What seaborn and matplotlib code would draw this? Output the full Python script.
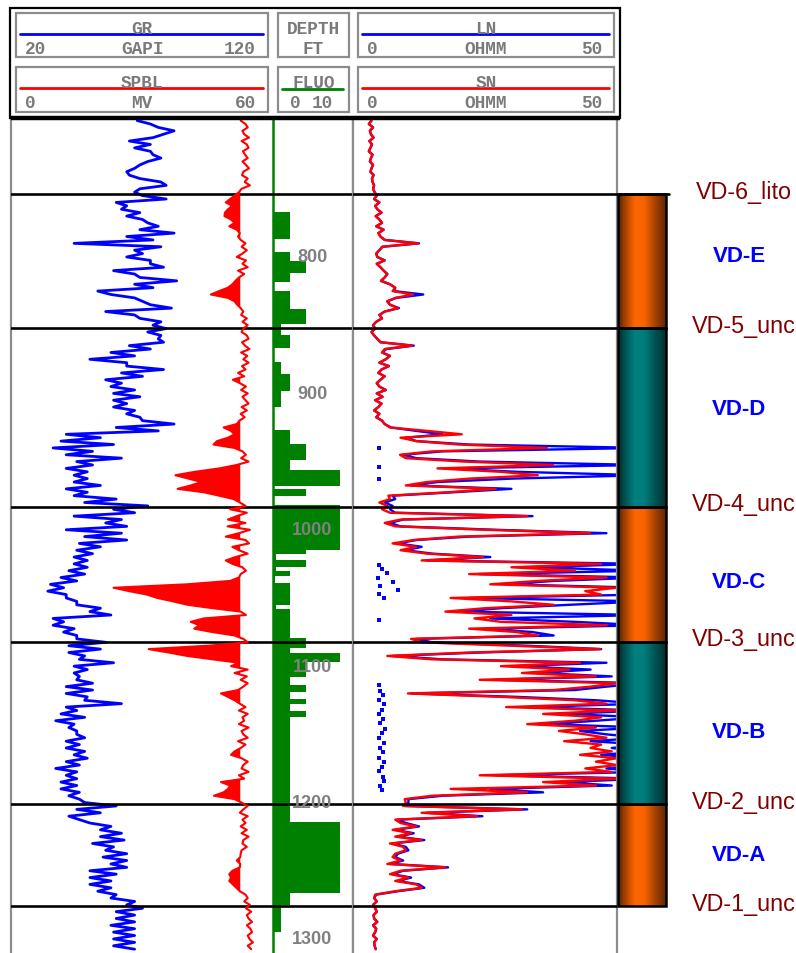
import numpy as np
import pandas as pd
import matplotlib
matplotlib.use("Agg")
import matplotlib.pyplot as plt
from matplotlib.patches import Rectangle
import matplotlib.colors as mcolors
import seaborn as sns

sns.set_theme(style="white")
plt.rcParams['font.family'] = ['Liberation Sans', 'DejaVu Sans']

W, H = 796, 954

# ---------------- data ----------------
DEPTH_START = 700.0
DEPTH_STEP = 2.5

GR = [
    68, 73, 76, 82, 78, 74, 65, 73,
    67, 73, 74, 77, 72, 69, 67, 64,
    65, 69, 77, 79, 69, 67, 70, 79,
    60, 64, 62, 69, 64, 70, 72, 76,
    69, 82, 64, 74, 44, 77, 67, 70,
    64, 73, 73, 78, 59, 67, 69, 83,
    67, 74, 53, 58, 67, 70, 73, 81,
    56, 67, 69, 77, 74, 79, 72, 77,
    76, 78, 65, 73, 58, 67, 50, 64,
    64, 78, 62, 70, 56, 62, 58, 67,
    59, 69, 59, 64, 59, 67, 64, 69,
    70, 82, 60, 76, 41, 54, 39, 59,
    36, 51, 41, 62, 45, 51, 41, 49,
    44, 49, 44, 54, 41, 49, 44, 60,
    48, 72, 59, 67, 44, 62, 56, 64,
    41, 62, 48, 64, 46, 54, 45, 51,
    44, 49, 44, 49, 42, 48, 39, 45,
    35, 40, 34, 41, 41, 45, 45, 54,
    50, 58, 36, 40, 36, 44, 40, 45,
    45, 56, 42, 54, 42, 48, 46, 59,
    44, 49, 44, 46, 45, 51, 41, 51,
    41, 49, 48, 62, 41, 45, 39, 48,
    37, 44, 42, 45, 45, 48, 41, 46,
    41, 48, 44, 49, 41, 46, 37, 45,
    41, 45, 39, 45, 39, 46, 42, 46,
    48, 60, 45, 54, 42, 46, 50, 58,
    54, 62, 54, 63, 51, 59, 56, 64,
    55, 64, 58, 64, 50, 60, 50, 58,
    50, 58, 53, 60, 58, 67, 64, 70,
    60, 67, 60, 67, 58, 67, 59, 67,
    59, 67, 59, 67,
]

SPBL = [
    52.4, 53.5, 54.0, 52.8, 53.2, 54.3, 52.6, 53.8,
    54.2, 52.9, 53.4, 54.0, 52.8, 53.6, 54.3, 53.0,
    52.7, 54.0, 53.3, 54.5, 52.6, 52.0, 51.0, 50.0,
    49.0, 50.5, 49.5, 48.8, 48.7, 50.2, 51.0, 49.8,
    51.5, 52.2, 51.8, 52.4, 53.5, 52.6, 53.8, 52.8,
    51.5, 53.6, 52.8, 54.0, 51.8, 53.2, 52.0, 51.2,
    50.5, 49.5, 47.5, 45.6, 49.5, 51.0, 51.6, 52.4,
    53.0, 52.5, 53.8, 52.8, 54.0, 53.0, 52.6, 53.8,
    54.2, 52.7, 53.4, 54.4, 52.5, 53.9, 53.0, 54.2,
    52.7, 53.5, 51.8, 53.2, 50.6, 52.2, 53.6, 52.5,
    54.0, 52.8, 53.5, 54.2, 52.6, 53.8, 52.4, 53.3,
    52.1, 51.5, 48.5, 50.2, 51.0, 49.5, 47.0, 46.2,
    51.0, 52.8, 53.6, 52.5, 54.2, 51.5, 47.5, 42.0,
    37.5, 40.5, 43.5, 41.0, 38.0, 44.0, 47.5, 50.8,
    52.2, 53.5, 50.0, 53.8, 51.5, 49.5, 53.5, 49.4,
    54.5, 52.0, 49.0, 53.5, 54.3, 50.5, 52.0, 54.0,
    51.2, 49.0, 50.5, 52.8, 53.6, 52.4, 52.0, 50.0,
    40.0, 23.4, 27.0, 31.0, 33.4, 37.0, 40.3, 46.0,
    52.4, 53.6, 44.0, 41.0, 43.0, 41.8, 46.0, 51.0,
    53.0, 54.0, 45.0, 31.4, 36.0, 40.2, 46.0, 52.0,
    50.2, 54.0, 51.0, 53.8, 52.4, 54.0, 53.0, 51.8,
    47.9, 49.5, 51.0, 52.2, 53.5, 52.0, 54.0, 52.8,
    53.2, 52.0, 54.2, 52.6, 53.0, 54.0, 51.8, 53.5,
    52.4, 51.0, 50.2, 52.6, 54.0, 53.0, 52.6, 54.2,
    52.0, 53.2, 47.9, 50.0, 49.5, 48.5, 46.3, 51.0,
    52.6, 54.0, 53.0, 52.2, 54.0, 52.8, 53.5, 52.4,
    53.8, 52.6, 54.2, 53.0, 52.8, 53.8, 52.6, 52.4,
    52.3, 51.5, 52.3, 52.2, 50.5, 49.8, 50.2, 49.8,
    50.6, 51.4, 52.2, 53.5, 54.0, 53.2, 54.5, 53.6,
    54.8, 53.8, 54.2, 55.0, 53.8, 54.6, 55.0, 54.0,
    54.4, 55.2, 54.0, 54.8,
]
SP_BASELINE = 52.3

SN = [
    3.5, 3.0, 3.8, 3.2, 3.4, 3.9, 3.1, 3.6,
    3.3, 3.0, 3.7, 3.4, 3.2, 3.8, 3.5, 3.3,
    3.9, 3.6, 3.7, 4.0, 3.8, 4.1, 4.5, 4.0,
    5.0, 4.2, 4.6, 5.4, 4.3, 5.0, 5.5, 4.4,
    5.8, 4.8, 5.2, 6.0, 12.3, 5.5, 5.0, 4.4,
    4.6, 6.0, 4.5, 5.2, 5.8, 6.5, 6.0, 5.3,
    7.0, 8.0, 7.5, 11.4, 8.0, 6.5, 7.0, 8.5,
    6.0, 5.0, 5.5, 4.4, 3.8, 4.2, 3.5, 4.0,
    4.6, 5.2, 11.2, 6.0, 5.5, 7.0, 6.2, 5.0,
    6.8, 5.4, 4.8, 6.0, 5.2, 4.5, 5.0, 6.2,
    4.5, 5.6, 4.2, 5.4, 4.8, 4.0, 5.0, 4.4,
    5.5, 6.0, 7.0, 14.0, 20.6, 9.0, 12.0, 20.0,
    36.7, 15.0, 8.9, 10.0, 21.0, 37.9, 16.0, 28.0,
    35.0, 22.0, 14.0, 10.0, 27.0, 18.0, 6.7, 7.0,
    5.0, 6.5, 5.5, 7.0, 33.0, 9.0, 6.0, 8.0,
    25.0, 44.9, 20.0, 11.5, 7.5, 12.0, 9.0, 14.0,
    24.6, 13.0, 47.0, 30.0, 42.0, 22.0, 48.0, 35.0,
    26.0, 50.0, 44.0, 47.0, 18.5, 30.0, 38.0, 25.0,
    17.5, 30.0, 23.0, 28.0, 48.0, 22.0, 31.0, 35.0,
    11.0, 13.0, 30.0, 46.8, 22.0, 6.5, 15.0, 43.0,
    28.0, 41.0, 32.0, 46.0, 24.0, 50.0, 45.0, 38.0,
    10.4, 28.0, 42.0, 48.0, 29.0, 50.0, 36.0, 47.0,
    42.0, 33.0, 46.0, 39.0, 44.0, 48.0, 40.0, 47.0,
    45.0, 49.0, 43.0, 50.0, 46.0, 50.0, 44.0, 49.0,
    24.0, 50.0, 36.0, 46.0, 18.5, 33.0, 15.0, 9.8,
    10.0, 9.5, 32.0, 13.0, 23.5, 8.0, 9.0, 12.0,
    7.5, 11.0, 8.0, 13.0, 7.0, 9.5, 10.0, 8.0,
    7.5, 9.0, 6.5, 17.5, 9.0, 7.0, 10.5, 8.0,
    12.0, 13.0, 8.0, 4.2, 4.0, 4.5, 3.8, 4.2,
    4.5, 3.9, 4.0, 4.6, 3.8, 4.4, 4.2, 3.8,
    4.5, 4.0, 4.1, 4.3,
]

LN = [
    3.5, 3.0, 3.8, 3.2, 3.4, 3.9, 3.1, 3.6,
    3.3, 3.0, 3.7, 3.4, 3.2, 3.8, 3.5, 3.3,
    3.9, 3.6, 3.7, 4.0, 3.8, 4.1, 4.5, 4.0,
    5.0, 4.2, 4.6, 5.4, 4.3, 5.0, 5.5, 4.4,
    5.8, 4.8, 5.2, 6.0, 12.5, 5.6, 5.0, 4.4,
    4.6, 6.0, 4.5, 5.2, 5.8, 6.5, 6.0, 5.3,
    7.0, 8.0, 7.8, 13.3, 8.2, 6.5, 7.0, 8.7,
    6.0, 5.0, 5.5, 4.4, 3.8, 4.2, 3.5, 4.0,
    4.6, 5.2, 11.5, 6.3, 5.5, 7.0, 6.2, 5.0,
    6.8, 5.4, 4.8, 6.0, 5.2, 4.5, 5.0, 6.2,
    4.5, 5.6, 4.2, 5.4, 4.8, 4.0, 5.0, 4.4,
    5.5, 6.0, 7.2, 12.0, 17.0, 10.0, 12.0, 22.0,
    55.0, 17.0, 9.5, 12.0, 24.0, 55.0, 18.0, 31.0,
    55.0, 30.0, 16.0, 11.0, 30.0, 19.0, 7.5, 8.0,
    6.0, 7.5, 7.0, 8.0, 34.0, 9.5, 7.0, 9.0,
    27.0, 48.0, 22.0, 12.0, 8.5, 13.0, 10.0, 15.0,
    26.0, 14.0, 55.0, 34.0, 55.0, 24.0, 55.0, 38.0,
    29.0, 55.0, 55.0, 55.0, 22.0, 55.0, 41.0, 28.0,
    20.0, 55.0, 26.0, 42.0, 55.0, 25.0, 34.0, 38.0,
    12.0, 15.0, 33.0, 47.0, 24.0, 7.5, 17.0, 48.0,
    31.0, 45.0, 35.0, 49.0, 27.0, 55.0, 48.0, 42.0,
    11.0, 31.0, 46.0, 55.0, 33.0, 55.0, 40.0, 55.0,
    46.0, 37.0, 55.0, 43.0, 48.0, 55.0, 45.0, 55.0,
    49.0, 55.0, 47.0, 55.0, 50.0, 55.0, 48.0, 55.0,
    27.0, 55.0, 40.0, 49.0, 26.0, 36.0, 17.0, 10.5,
    10.5, 10.0, 33.0, 14.0, 24.5, 8.5, 10.0, 12.5,
    8.0, 11.5, 8.5, 13.5, 7.5, 10.0, 10.5, 8.5,
    8.0, 9.5, 7.0, 18.0, 9.5, 7.5, 11.0, 8.5,
    12.5, 13.5, 8.5, 4.4, 4.0, 4.5, 3.8, 4.2,
    4.5, 3.9, 4.0, 4.6, 3.8, 4.4, 4.2, 3.8,
    4.5, 4.0, 4.1, 4.3,
]

LN_DOT_DEPTH = [940, 954, 963, 1026, 1029, 1032, 1035, 1038, 1041, 1044, 1047, 1050,
                1066, 1114, 1118, 1121, 1125, 1128, 1132, 1135, 1139, 1142, 1146, 1149,
                1153, 1156, 1160, 1163, 1167, 1170, 1174, 1177, 1181, 1184, 1188, 1191]
LN_DOT_VAL = [4.9, 4.9, 4.9, 4.9, 5.4, 6.5, 4.8, 7.5, 5.2, 8.6, 4.9, 5.8,
              4.9, 4.9, 5.2, 5.6, 5.0, 5.8, 5.4, 4.9, 5.6, 5.2, 6.0, 5.4,
              5.0, 5.8, 5.2, 5.6, 5.0, 5.8, 5.4, 4.9, 5.6, 5.8, 5.2, 5.4]

FLUO_TOP = [698, 767, 787, 796, 803, 812, 818, 825, 838, 849,
            857, 867, 877, 886, 898, 910, 927, 937, 949, 956,
            968, 970, 975, 982, 1015, 1018, 1022, 1027, 1030, 1034,
            1039, 1055, 1058, 1079, 1087, 1090, 1097, 1108, 1114, 1119,
            1124, 1128, 1133, 1137, 1214, 1266, 1275, 1295]
FLUO_VAL = [0, 2.5, 0, 2.5, 5, 2.5, 0, 2.5, 5, 1.2,
            2.5, 0, 1.2, 2.5, 1.2, 0, 2.5, 5, 2.5, 10,
            0, 5, 0, 10, 5, 0.5, 5, 0.5, 2.5, 0.3,
            2.5, 0.5, 2.5, 5, 2.5, 10, 5, 2.5, 5, 2.5,
            5, 2.5, 5, 2.5, 10, 2.5, 1.2, 0]

DEPTH_TICKS = [800, 900, 1000, 1100, 1200, 1300]

TOP_DEPTHS = [754, 852, 983, 1082, 1201, 1276]
TOP_NAMES = ['VD-6_lito', 'VD-5_unc', 'VD-4_unc', 'VD-3_unc', 'VD-2_unc', 'VD-1_unc']
ZONE_NAMES = ['VD-E', 'VD-D', 'VD-C', 'VD-B', 'VD-A']
ZONE_LABEL_DEPTH = [799, 911, 1038, 1148, 1238]
ZONE_COLORS = ['#FF6600', '#008080', '#FF6600', '#008080', '#FF6600']

DEPTH = DEPTH_START + DEPTH_STEP * np.arange(len(GR))
assert len(GR) == len(SPBL) == len(SN) == len(LN)
df = pd.DataFrame({'DEPTH': DEPTH, 'GR': GR, 'SPBL': SPBL, 'LN': LN, 'SN': SN})
dots = pd.DataFrame({'DEPTH': LN_DOT_DEPTH, 'LN': LN_DOT_VAL})

Y_TOP, Y_BOT = 698.1, 1310.3

# ---------------- figure ----------------
fig = plt.figure(figsize=(W / 100, H / 100), dpi=100)
fig.patch.set_facecolor('white')


def ax_px(x0, y0, x1, y1, **kw):
    return fig.add_axes([x0 / W, 1 - y1 / H, (x1 - x0) / W, (y1 - y0) / H], **kw)


def clean(ax, left=False, right=False):
    ax.set_xticks([])
    ax.set_yticks([])
    ax.set_xlabel('')
    ax.set_ylabel('')
    for s in ['top', 'bottom', 'left', 'right']:
        ax.spines[s].set_visible(False)
    for s, on in (('left', left), ('right', right)):
        if on:
            ax.spines[s].set_visible(True)
            ax.spines[s].set_color('#8c8c8c')
            ax.spines[s].set_linewidth(1.6)


GRAY = '#8c8c8c'
TOP_Y = 119

# Track 1: GR + SPBL
ax_gr = ax_px(11, TOP_Y, 274, H)
sns.lineplot(data=df, x='GR', y='DEPTH', orient='y', sort=False, estimator=None,
             color='#0000FF', lw=2.0, ax=ax_gr)
ax_gr.set_xlim(20, 120)
ax_gr.set_ylim(Y_BOT, Y_TOP)
clean(ax_gr, left=True, right=True)

ax_sp = ax_px(11, TOP_Y, 274, H, sharey=ax_gr)
ax_sp.patch.set_visible(False)
ax_sp.fill_betweenx(df['DEPTH'], df['SPBL'], SP_BASELINE,
                    where=df['SPBL'] < SP_BASELINE, interpolate=True,
                    color='#FF0000', lw=0)
sns.lineplot(data=df, x='SPBL', y='DEPTH', orient='y', sort=False, estimator=None,
             color='#FF0000', lw=1.5, ax=ax_sp)
ax_sp.set_xlim(0, 60)
ax_sp.set_ylim(Y_BOT, Y_TOP)
clean(ax_sp)

# Track 2: FLUO + depth
ax_fl = ax_px(272, TOP_Y, 353, H)
fd = list(FLUO_TOP) + [Y_BOT + 2]
fv = list(FLUO_VAL) + [FLUO_VAL[-1]]
ax_fl.fill_betweenx(fd, 0, fv, step='post', color='#008000', lw=0)
ax_fl.axvline(0, color='#008000', lw=1.8)
ax_fl.set_xlim(-0.15, 12.0)
ax_fl.set_ylim(Y_BOT, Y_TOP)
for d in DEPTH_TICKS:
    ax_fl.text(5.9, d, str(d), ha='center', va='center', color='#808080',
               fontsize=13, fontweight='bold', zorder=8)
clean(ax_fl, right=True)

# Track 3: LN + SN
ax_rs = ax_px(353, TOP_Y, 617, H)
sns.lineplot(data=df, x='LN', y='DEPTH', orient='y', sort=False, estimator=None,
             color='#0000FF', lw=1.7, ax=ax_rs)
sns.scatterplot(data=dots, x='LN', y='DEPTH', color='#0000FF', marker='s', s=7,
                linewidth=0, ax=ax_rs)
sns.lineplot(data=df, x='SN', y='DEPTH', orient='y', sort=False, estimator=None,
             color='#FF0000', lw=1.7, ax=ax_rs)
ax_rs.set_xlim(0, 50)
ax_rs.set_ylim(Y_BOT, Y_TOP)
clean(ax_rs, left=True, right=True)

for ax in (ax_gr, ax_fl, ax_rs):
    for d in TOP_DEPTHS:
        ax.axhline(d, color='black', lw=1.9, zorder=6)

# Zone column + labels
ax_zn = ax_px(617, TOP_Y, W, H)
ax_zn.patch.set_visible(False)


def gradient_img(hexcol):
    base = np.array(mcolors.to_rgb(hexcol))
    pos = [0.0, 0.12, 0.35, 0.55, 0.8, 1.0]
    fac = [0.33, 0.6, 1.0, 0.97, 0.62, 0.38]
    xs = np.linspace(0, 1, 80)
    f = np.interp(xs, pos, fac)
    return (base[None, :] * f[:, None])[None, :, :]


for i in range(len(ZONE_NAMES)):
    top, bot = TOP_DEPTHS[i], TOP_DEPTHS[i + 1]
    ax_zn.imshow(gradient_img(ZONE_COLORS[i]), extent=(618, 666, bot, top),
                 aspect='auto', interpolation='bilinear', zorder=1)
    ax_zn.add_patch(Rectangle((618, top), 48, bot - top, fill=False,
                              ec='black', lw=1.8, zorder=3))
ax_zn.plot([617, 669], [TOP_DEPTHS[0], TOP_DEPTHS[0]], color='black', lw=1.9, zorder=4)

for d, name in zip(TOP_DEPTHS, TOP_NAMES):
    ax_zn.text(744, d - 2, name, ha='center', va='center', color='#800000',
               fontsize=16.8)
for d, name in zip(ZONE_LABEL_DEPTH, ZONE_NAMES):
    ax_zn.text(739, d, name, ha='center', va='center', color='#0000FF',
               fontsize=16, fontweight='bold')
ax_zn.set_xlim(617, W)
ax_zn.set_ylim(Y_BOT, Y_TOP)
clean(ax_zn)

# ---------------- header overlay ----------------
ov = fig.add_axes([0, 0, 1, 1])
ov.patch.set_visible(False)
ov.set_xlim(0, W)
ov.set_ylim(H, 0)
ov.axis('off')
ov.set_zorder(10)

ov.add_patch(Rectangle((10, 9), 609.5, 110, fill=False, ec='black', lw=1.6))
ov.plot([11, 619.5], [119, 119], color='black', lw=3.2, solid_capstyle='butt')

boxes = [(16, 268), (278, 349), (358, 614)]
rows = [(14, 58), (68, 113)]
for (y0, y1) in rows:
    for (x0, x1) in boxes:
        ov.add_patch(Rectangle((x0, y0), x1 - x0, y1 - y0, fill=False,
                               ec=GRAY, lw=1.6))

HF = dict(family=['Liberation Mono', 'DejaVu Sans Mono'], fontweight='bold',
          color='#7a7a7a', fontsize=12.8, va='center')

header = [
    # (title, unit, lo, hi, color, box, row)
    ('GR', 'GAPI', '20', '120', '#0000FF', 0, 0),
    ('SPBL', 'MV', '0', '60', '#FF0000', 0, 1),
    ('LN', 'OHMM', '0', '50', '#0000FF', 2, 0),
    ('SN', 'OHMM', '0', '50', '#FF0000', 2, 1),
]
for title, unit, lo, hi, col, b, r in header:
    x0, x1 = boxes[b]
    y0, y1 = rows[r]
    cx = (x0 + x1) / 2
    ov.text(cx, y0 + 15, title, ha='center', **HF)
    ov.plot([x0 + 4, x1 - 5], [y0 + 21, y0 + 21], color=col, lw=2)
    ov.text(cx, y0 + 35, unit, ha='center', **HF)
    ov.text(x0 + 9, y0 + 35, lo, ha='left', **HF)
    ov.text(x1 - 12, y0 + 35, hi, ha='right', **HF)

cx = (278 + 349) / 2
ov.text(cx, 14 + 15, 'DEPTH', ha='center', **HF)
ov.text(cx, 14 + 35, 'FT', ha='center', **HF)
ov.text(cx, 68 + 16, 'FLUO', ha='center', **HF)
ov.plot([282, 343], [90, 90], color='#008000', lw=2)
ov.text(295, 68 + 36, '0', ha='center', **HF)
ov.text(322, 68 + 36, '10', ha='center', **HF)

fig.savefig('out.png', dpi=100, facecolor='white')
